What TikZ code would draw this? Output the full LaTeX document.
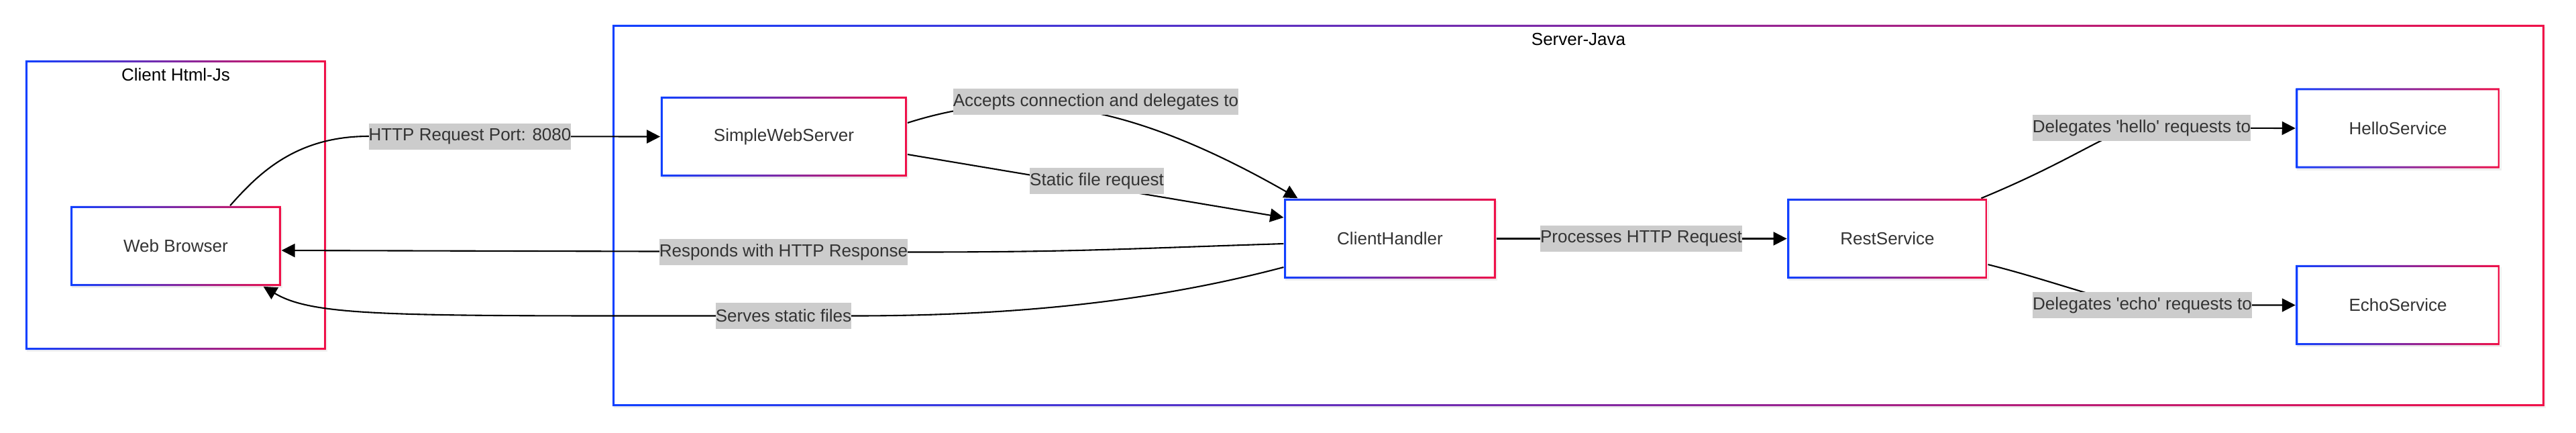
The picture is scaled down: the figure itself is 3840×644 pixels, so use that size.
\documentclass[tikz,border=0pt]{standalone}
\usepackage{fontspec}
\setmainfont{Liberation Sans}
\usetikzlibrary{arrows.meta,shadows,backgrounds}
\definecolor{gblue}{RGB}{16,64,255}
\definecolor{gred}{RGB}{240,16,72}
\definecolor{lblgray}{RGB}{204,204,204}
\definecolor{txtgray}{RGB}{51,51,51}
\tikzset{
gframe/.style={path picture={
\shade[left color=gblue, right color=gred, even odd rule]
(path picture bounding box.south west) rectangle (path picture bounding box.north east)
([shift={(0.03cm,0.03cm)}]path picture bounding box.south west) rectangle ([shift={(-0.03cm,-0.03cm)}]path picture bounding box.north east);}},
}
\begin{document}
\begin{tikzpicture}[x=0.01cm, y=-0.01cm, font=\fontsize{7.4pt}{9pt}\selectfont,
cluster/.style={fill=white, gframe, drop shadow={opacity=0.1, shadow xshift=0.02cm, shadow yshift=-0.03cm}},
box/.style={fill=white, gframe, text=txtgray, inner xsep=0.79cm, minimum height=1.19cm, drop shadow={opacity=0.12, shadow xshift=0.02cm, shadow yshift=-0.03cm}},
lbl/.style={fill=lblgray, text=txtgray, inner xsep=0, inner ysep=0, minimum height=0.39cm},
flow/.style={line width=0.021cm, -{Triangle[length=0.2cm, width=0.2cm]}}]
\useasboundingbox (0,0) rectangle (3840,644);
\begin{scope}[on background layer]
\node[cluster, minimum width=4.48cm, minimum height=4.31cm] (client) at (262,305.5){};
\node[cluster, minimum width=28.78cm, minimum height=5.68cm] (server) at (2353,321){};
\end{scope}
\node (tclient) at ([yshift=-0.215cm]client.north){Client Html-Js};
\node (tserver) at ([yshift=-0.225cm]server.north){Server-Java};
\node[box] (browser) at (262,366.5){Web Browser};
\node[box] (sws) at (1168.5,203.5){SimpleWebServer};
\node[box] (handler) at (2072,355.5){ClientHandler};
\node[box] (rest) at (2813.5,355.5){RestService};
\node[box] (hello) at (3574.5,191){HelloService};
\node[box] (echo) at (3574.5,454.5){EchoService};
\node[lbl] (lport) at (700.5,203){HTTP Request Port: 8080};
\node[lbl] (laccept) at (1633.5,151.5){Accepts connection and delegates to};
\node[lbl] (lstatic) at (1635,269.5){Static file request};
\node[lbl] (lresp) at (1168,375.5){Responds with HTTP Response};
\node[lbl] (lserve) at (1168,470.5){Serves static files};
\node[lbl] (lproc) at (2446.5,355.5){Processes HTTP Request};
\node[lbl] (lhello) at (3192.5,190.5){Delegates \textquotesingle hello\textquotesingle{} requests to};
\node[lbl] (lecho) at (3193.5,454.5){Delegates \textquotesingle echo\textquotesingle{} requests to};
\begin{scope}[on background layer]
\draw[flow] ([xshift=0.81cm]browser.north) .. controls +(40,-45) and +(-110,0) .. (lport.west) -- (sws.west);
\draw[flow] ([yshift=0.205cm]sws.east) .. controls (1520,130) and (1680,150) .. ([xshift=0.21cm]handler.north west);
\draw[flow] ([yshift=-0.265cm]sws.east) -- ([yshift=0.315cm]handler.west);
\draw[flow] ([yshift=-0.075cm]handler.west) .. controls +(-250,8) and +(250,0) .. (lresp.east) -- ([yshift=-0.065cm]browser.east);
\draw[flow] ([yshift=-0.425cm]handler.west) .. controls +(-190,50) and +(250,0) .. (lserve.east) -- (lserve.west) .. controls +(-480,0) and +(75,45) .. ([xshift=-0.27cm]browser.south east);
\draw[flow] (handler.east) -- (rest.west);
\draw[flow] ([xshift=-0.1cm]rest.north east) .. controls +(150,-62) and +(-45,0) .. (lhello.center) -- (hello.west);
\draw[flow] ([yshift=-0.385cm]rest.east) .. controls +(100,25) and +(-40,0) .. (lecho.center) -- (echo.west);
\end{scope}
\end{tikzpicture}
\end{document}
